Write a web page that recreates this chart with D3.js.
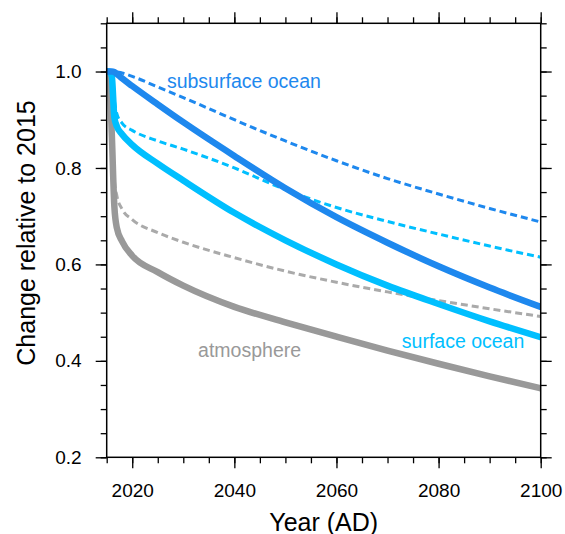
<!DOCTYPE html>
<html>
<head>
<meta charset="utf-8">
<script src="https://cdn.jsdelivr.net/npm/d3@7"></script>
<style>
  body { margin: 0; background: #fff; }
  svg { font-family: "Liberation Sans", Arial, Helvetica, sans-serif; }
</style>
</head>
<body>
<div id="chart"></div>
<script>
// years shared by every series
const years = [2015, 2015.5, 2016, 2016.5, 2017, 2018, 2020, 2025, 2030, 2040, 2050, 2060, 2070, 2080, 2090, 2100];

const subsurfaceSolid  = [1.0, 1.0, 1.0, 0.999, 0.995, 0.986, 0.970, 0.932, 0.895, 0.825, 0.758, 0.698, 0.645, 0.596, 0.552, 0.512];
const subsurfaceDashed = [1.0, 1.0, 1.0, 1.0, 0.999, 0.997, 0.990, 0.968, 0.946, 0.900, 0.856, 0.815, 0.778, 0.746, 0.716, 0.688];
const surfaceSolid     = [1.0, 1.0, 0.990, 0.905, 0.886, 0.870, 0.848, 0.809, 0.774, 0.707, 0.650, 0.600, 0.556, 0.518, 0.482, 0.449];
const surfaceDashed    = [1.0, 1.0, 0.985, 0.940, 0.912, 0.893, 0.878, 0.856, 0.839, 0.800, 0.755, 0.718, 0.689, 0.663, 0.638, 0.615];
const atmosSolid       = [1.0, 0.99, 0.870, 0.720, 0.675, 0.648, 0.618, 0.584, 0.556, 0.512, 0.480, 0.450, 0.421, 0.394, 0.368, 0.343];
const atmosDashed      = [1.0, 0.98, 0.880, 0.775, 0.742, 0.715, 0.693, 0.666, 0.646, 0.614, 0.586, 0.563, 0.543, 0.525, 0.508, 0.492];

const xMajor = [2020, 2040, 2060, 2080, 2100];
const xMinor = d3.range(2015, 2101, 5);
const yMajor = [0.2, 0.4, 0.6, 0.8, 1.0];
const yMinor = d3.range(0.2, 1.1001, 0.05);

const series = [
  { values: subsurfaceDashed, color: '#1e88ee', width: 3, dash: '7,4' },
  { values: surfaceDashed,    color: '#00bfff', width: 3, dash: '7,4' },
  { values: atmosDashed,      color: '#aaaaaa', width: 3, dash: '7,4' },
  { values: atmosSolid,       color: '#999999', width: 6.5, dash: null },
  { values: surfaceSolid,     color: '#00bfff', width: 6.5, dash: null },
  { values: subsurfaceSolid,  color: '#1e88ee', width: 6.5, dash: null }
];

const labels = [
  { text: 'subsurface ocean', year: 2026.8, value: 0.966, color: '#1e88ee' },
  { text: 'surface ocean',    year: 2072.8, value: 0.426, color: '#00bfff' },
  { text: 'atmosphere',       year: 2032.9, value: 0.409, color: '#999999' }
];

const margin = { top: 23.3, right: 24.3, bottom: 76.7, left: 106.7 };
const W = 565, H = 534;
const width = W - margin.left - margin.right;
const height = H - margin.top - margin.bottom;

const svg = d3.select('#chart').append('svg')
  .attr('width', W)
  .attr('height', H);

const g = svg.append('g')
  .attr('transform', `translate(${margin.left},${margin.top})`);

const x = d3.scaleLinear().domain([2015, 2100]).range([0, width]);
const y = d3.scaleLinear().domain([0.2, 1.1]).range([height, 0]);

// clip lines to plot area
g.append('defs').append('clipPath')
  .attr('id', 'clip')
  .append('rect')
  .attr('width', width)
  .attr('height', height);

const line = d3.line()
  .x((d, i) => x(years[i]))
  .y(d => y(d))
  .curve(d3.curveMonotoneX);

const lines = g.append('g').attr('clip-path', 'url(#clip)');
series.forEach(s => {
  lines.append('path')
    .attr('d', line(s.values))
    .attr('fill', 'none')
    .attr('stroke', s.color)
    .attr('stroke-width', s.width)
    .attr('stroke-dasharray', s.dash)
    .attr('stroke-linecap', s.dash ? 'butt' : 'round')
    .attr('stroke-linejoin', 'round');
});

labels.forEach(l => {
  g.append('text')
    .attr('x', x(l.year))
    .attr('y', y(l.value))
    .attr('fill', l.color)
    .attr('font-size', 19.5)
    .text(l.text);
});

// axes: major + minor, ticks pointing outward on all four sides
function styleAxis(sel) {
  sel.select('.domain').remove();
  sel.selectAll('line').attr('stroke', '#000').attr('stroke-width', 1.3);
  sel.selectAll('text').attr('fill', '#000').attr('font-size', 19).attr('font-family', null);
}

g.append('g').attr('transform', `translate(0,${height})`)
  .call(d3.axisBottom(x).tickValues(xMinor).tickSize(6).tickFormat(''))
  .call(styleAxis);
g.append('g').attr('transform', `translate(0,${height})`)
  .call(d3.axisBottom(x).tickValues(xMajor).tickSize(11).tickPadding(15.5).tickFormat(d3.format('d')))
  .call(styleAxis);

g.append('g')
  .call(d3.axisTop(x).tickValues(xMinor).tickSize(6).tickFormat(''))
  .call(styleAxis);
g.append('g')
  .call(d3.axisTop(x).tickValues(xMajor).tickSize(11).tickFormat(''))
  .call(styleAxis);

g.append('g')
  .call(d3.axisLeft(y).tickValues(yMinor).tickSize(6).tickFormat(''))
  .call(styleAxis);
g.append('g')
  .call(d3.axisLeft(y).tickValues(yMajor).tickSize(11).tickPadding(14).tickFormat(d3.format('.1f')))
  .call(styleAxis);

g.append('g').attr('transform', `translate(${width},0)`)
  .call(d3.axisRight(y).tickValues(yMinor).tickSize(6).tickFormat(''))
  .call(styleAxis);
g.append('g').attr('transform', `translate(${width},0)`)
  .call(d3.axisRight(y).tickValues(yMajor).tickSize(11).tickFormat(''))
  .call(styleAxis);

// frame
g.append('rect')
  .attr('width', width)
  .attr('height', height)
  .attr('fill', 'none')
  .attr('stroke', '#000')
  .attr('stroke-width', 1.5);

// axis titles
svg.append('text')
  .attr('x', margin.left + width / 2)
  .attr('y', 530.5)
  .attr('text-anchor', 'middle')
  .attr('font-size', 25)
  .text('Year (AD)');

svg.append('text')
  .attr('transform', 'translate(35,233) rotate(-90)')
  .attr('text-anchor', 'middle')
  .attr('font-size', 25)
  .text('Change relative to 2015');
</script>
</body>
</html>
